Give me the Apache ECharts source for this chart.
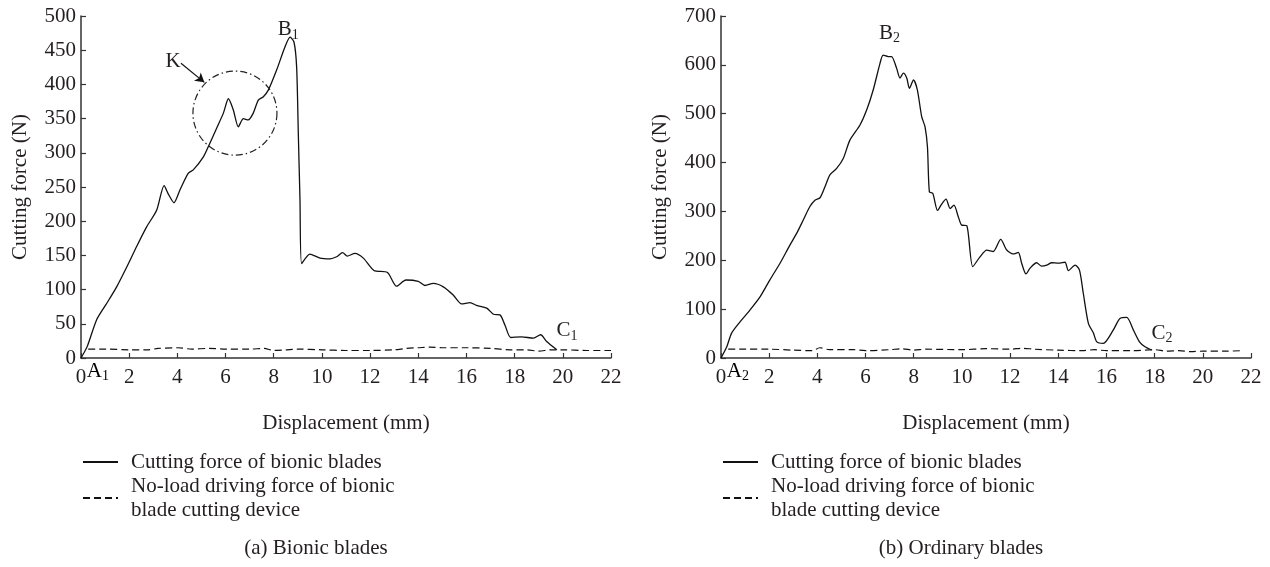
<!DOCTYPE html>
<html>
<head>
<meta charset="utf-8">
<script src="https://cdn.jsdelivr.net/npm/echarts@6/dist/echarts.min.js"></script>
<style>
  html, body { margin: 0; padding: 0; background: #fff; }
  #chart { width: 1270px; height: 567px; }
</style>
</head>
<body>
<div id="chart"></div>
<script>
// (a) bionic blades: cutting force
const bionicX = [0, 0.26, 0.65, 1.07, 1.48, 1.90, 2.31, 2.73, 3.14, 3.45, 3.62, 3.86, 4.11, 4.45, 4.66, 5.08, 5.35, 5.63, 5.91, 6.12, 6.32, 6.53, 6.74, 6.94, 7.15, 7.36, 7.57, 7.78, 8.12, 8.47, 8.68, 8.84, 8.95, 9.02, 9.09, 9.16, 9.50, 9.92, 10.34, 10.61, 10.86, 11.05, 11.37, 11.72, 12.16, 12.72, 13.10, 13.49, 14.0, 14.28, 14.62, 15.04, 15.45, 15.80, 16.15, 16.42, 16.84, 17.12, 17.39, 17.60, 17.84, 18.29, 18.78, 19.08, 19.33, 19.75];
const bionicForce = [0, 17, 56, 80, 104, 133, 163, 192, 216, 252, 240, 227, 246, 270, 275, 294, 314, 336, 358, 379, 363, 338, 350, 348, 358, 377, 382, 392, 421, 455, 469, 462, 426, 329, 231, 138, 152, 146, 145, 148, 154, 149, 153, 146, 128, 125, 105, 114, 112, 106, 109, 104, 92, 79, 81, 77, 73, 64, 63, 48, 30, 31, 29, 34, 24, 12];
// (a) no-load driving force
const bionicNoLoadX = [0.3, 1, 2, 2.8, 3.2, 4, 4.6, 5.3, 6, 7, 7.6, 8, 8.5, 9, 10, 11, 12, 13, 13.5, 14, 14.5, 15, 16, 17, 17.8, 18.5, 19, 19.5, 20, 21, 22];
const bionicNoLoad = [13, 13, 12, 12, 14, 15, 13, 14, 13, 13, 14, 11, 12, 13, 12, 11, 11, 12, 14, 15, 16, 15, 15, 14, 12, 12, 10, 12, 12, 11, 11];

// (b) ordinary blades: cutting force
const ordinaryX = [0, 0.24, 0.44, 0.79, 1.20, 1.62, 2.03, 2.45, 2.86, 3.14, 3.42, 3.69, 3.90, 4.11, 4.32, 4.52, 4.80, 5.08, 5.35, 5.77, 6.05, 6.32, 6.60, 6.73, 6.94, 7.08, 7.29, 7.43, 7.57, 7.71, 7.82, 7.99, 8.15, 8.33, 8.47, 8.57, 8.65, 8.79, 8.99, 9.16, 9.34, 9.51, 9.67, 9.85, 9.99, 10.20, 10.45, 10.75, 11.03, 11.30, 11.61, 11.86, 12.13, 12.34, 12.48, 12.66, 12.83, 13.10, 13.31, 13.52, 13.73, 14.0, 14.28, 14.42, 14.70, 14.88, 15.04, 15.25, 15.46, 15.60, 15.87, 16.28, 16.56, 16.84, 17.12, 17.37, 17.60, 17.88];
const ordinaryForce = [0, 23, 51, 74, 98, 125, 160, 194, 231, 255, 283, 310, 323, 328, 351, 375, 388, 409, 446, 477, 508, 549, 603, 620, 617, 617, 593, 573, 583, 573, 552, 569, 549, 494, 473, 432, 340, 337, 302, 315, 325, 306, 313, 289, 272, 271, 187, 207, 221, 218, 243, 221, 213, 216, 194, 172, 184, 195, 188, 190, 195, 194, 196, 179, 190, 180, 132, 71, 51, 33, 30, 57, 81, 83, 57, 33, 23, 16];
// (b) no-load driving force
const ordinaryNoLoadX = [0.3, 1, 2, 3, 3.8, 4.1, 4.5, 5.5, 6, 7, 7.5, 8, 8.5, 10, 11, 12, 12.5, 13, 14, 15, 15.5, 16, 17, 18, 18.5, 19, 19.5, 20, 21, 21.6];
const ordinaryNoLoad = [18, 18, 18, 16, 15, 21, 17, 17, 15, 17, 19, 16, 18, 17, 19, 18, 20, 18, 16, 15, 17, 15, 15, 17, 14, 15, 13, 14, 14, 15];

const forceName = 'Cutting force of bionic blades';
const noLoadName = 'No-load driving force of bionic\nblade cutting device';
const captions = ['(a) Bionic blades', '(b) Ordinary blades'];

const FONT = 'Liberation Serif';
const FS = 21;
const INK = '#231f20';

function zip(xs, ys) {
  return xs.map((x, i) => [x, ys[i]]);
}

const sub = {
  m: { fontFamily: FONT, fontSize: FS, color: INK, lineHeight: 21, verticalAlign: 'top' },
  s: { fontFamily: FONT, fontSize: 14, color: INK, lineHeight: 14, verticalAlign: 'top', padding: [9, 0, 0, 0] }
};

function tag(coord, text) {
  return {
    coord: coord,
    symbol: 'circle',
    symbolSize: 1,
    itemStyle: { color: 'rgba(0,0,0,0)' },
    label: { show: true, position: 'inside', formatter: text, rich: sub, fontFamily: FONT, fontSize: FS, color: INK }
  };
}

function xAxisOf(idx) {
  return {
    gridIndex: idx,
    type: 'value',
    min: 0, max: 22, interval: 2,
    name: 'Displacement (mm)',
    nameLocation: 'middle',
    nameGap: 55,
    nameTextStyle: { fontFamily: FONT, fontSize: FS, color: INK },
    axisLine: { lineStyle: { color: '#333', width: 1.5 } },
    axisTick: { inside: true, length: 5, lineStyle: { color: '#333', width: 1.2 } },
    axisLabel: { fontFamily: FONT, fontSize: FS, color: INK, margin: 9 },
    splitLine: { show: false }
  };
}

function yAxisOf(idx, max, interval) {
  return {
    gridIndex: idx,
    type: 'value',
    min: 0, max: max, interval: interval,
    name: 'Cutting force (N)',
    nameLocation: 'middle',
    nameGap: 50,
    nameTextStyle: { fontFamily: FONT, fontSize: FS, color: INK },
    axisLine: { show: true, lineStyle: { color: '#333', width: 1.5 } },
    axisTick: { show: true, inside: true, length: 5, lineStyle: { color: '#333', width: 1.2 } },
    axisLabel: { fontFamily: FONT, fontSize: FS, color: INK, margin: 5 },
    splitLine: { show: false }
  };
}

function legendOf(left) {
  return {
    orient: 'vertical',
    left: left,
    top: 450,
    padding: 0,
    itemWidth: 35,
    itemHeight: 14,
    itemGap: 0,
    selectedMode: false,
    itemStyle: { opacity: 0 },
    data: [forceName, noLoadName],
    textStyle: { fontFamily: FONT, fontSize: FS, color: INK, lineHeight: 24, padding: [0, 0, 0, 8] }
  };
}

const solid = { color: '#111', width: 1.3 };
const dashed = { color: '#111', width: 1.2, type: [7, 4] };

const chart = echarts.init(document.getElementById('chart'), null, { renderer: 'canvas' });

chart.setOption({
  animation: false,
  grid: [
    { left: 81, top: 16, width: 530, height: 342 },
    { left: 721, top: 16, width: 530, height: 342 }
  ],
  xAxis: [xAxisOf(0), xAxisOf(1)],
  yAxis: [yAxisOf(0, 500, 50), yAxisOf(1, 700, 100)],
  legend: [legendOf(82), legendOf(722)],
  series: [
    {
      name: forceName, type: 'line', xAxisIndex: 0, yAxisIndex: 0,
      data: zip(bionicX, bionicForce), showSymbol: false, symbol: 'none', smooth: 0.25,
      lineStyle: solid, itemStyle: { color: '#111' },
      markPoint: {
        silent: true,
        data: [
          tag([8.6, 480], '{m|B}{s|1}'),
          tag([20.17, 40], '{m|C}{s|1}'),
          tag([3.82, 434], '{m|K}'),
          {
            coord: [6.39, 358],
            symbol: 'circle',
            symbolSize: 84,
            itemStyle: { color: 'rgba(0,0,0,0)', borderColor: '#222', borderWidth: 1.2, borderType: [7, 3, 1.5, 3] },
            label: { show: false }
          }
        ]
      },
      markLine: {
        silent: true,
        symbol: ['none', 'arrow'],
        symbolSize: [8, 9],
        label: { show: false },
        lineStyle: { color: '#111', width: 1.2, type: 'solid' },
        data: [[{ coord: [4.15, 431] }, { coord: [5.12, 403] }]]
      }
    },
    {
      name: noLoadName, type: 'line', xAxisIndex: 0, yAxisIndex: 0,
      data: zip(bionicNoLoadX, bionicNoLoad), showSymbol: false, symbol: 'none', smooth: 0.3,
      lineStyle: dashed, itemStyle: { color: '#111' }
    },
    {
      name: forceName, type: 'line', xAxisIndex: 1, yAxisIndex: 1,
      data: zip(ordinaryX, ordinaryForce), showSymbol: false, symbol: 'none', smooth: 0.25,
      lineStyle: solid, itemStyle: { color: '#111' },
      markPoint: {
        silent: true,
        data: [
          tag([6.99, 665], '{m|B}{s|2}'),
          tag([18.31, 51], '{m|C}{s|2}')
        ]
      }
    },
    {
      name: noLoadName, type: 'line', xAxisIndex: 1, yAxisIndex: 1,
      data: zip(ordinaryNoLoadX, ordinaryNoLoad), showSymbol: false, symbol: 'none', smooth: 0.3,
      lineStyle: dashed, itemStyle: { color: '#111' }
    }
  ]
});

// start-point tags sit below the x axis, so place them from data coords
const a1 = chart.convertToPixel({ xAxisIndex: 0, yAxisIndex: 0 }, [0.7, -19]);
const a2 = chart.convertToPixel({ xAxisIndex: 1, yAxisIndex: 1 }, [0.7, -27]);

function startTag(p, n) {
  return {
    type: 'text', x: p[0], y: p[1], silent: true,
    style: { text: '{m|A}{s|' + n + '}', rich: sub, align: 'center', verticalAlign: 'middle' }
  };
}

chart.setOption({
  graphic: [
    startTag(a1, '1'),
    startTag(a2, '2'),
    { type: 'text', x: 316, y: 548, silent: true,
      style: { text: captions[0], font: FS + 'px "' + FONT + '"', fill: INK, align: 'center', verticalAlign: 'middle' } },
    { type: 'text', x: 961, y: 548, silent: true,
      style: { text: captions[1], font: FS + 'px "' + FONT + '"', fill: INK, align: 'center', verticalAlign: 'middle' } }
  ]
});
</script>
</body>
</html>
